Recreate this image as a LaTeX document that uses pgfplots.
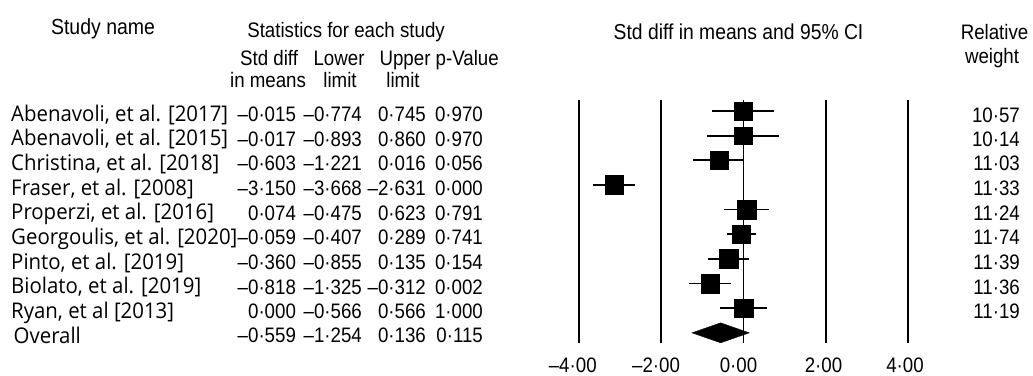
\documentclass[border=0pt]{standalone}
\usepackage{pgfplots}
\pgfplotsset{compat=1.18}
\usepackage{pgfplotstable}
\usepackage{fontspec}
\setmainfont{Liberation Sans}
\newfontfamily\namefont{Open Sans}

% row, estimate, lower, upper, weight, (upper-est), (est-lower)
\pgfplotstableread{
row est lo hi w ep em
1 -0.015 -0.774 0.745 10.57 0.760 0.759
2 -0.017 -0.893 0.860 10.14 0.877 0.876
3 -0.603 -1.221 0.016 11.03 0.619 0.618
4 -3.150 -3.668 -2.631 11.33 0.519 0.518
5 0.074 -0.475 0.623 11.24 0.549 0.549
6 -0.059 -0.407 0.289 11.74 0.348 0.348
7 -0.360 -0.855 0.135 11.39 0.495 0.495
8 -0.818 -1.325 -0.312 11.36 0.506 0.507
9 0.000 -0.566 0.566 11.19 0.566 0.566
}\studies

\pgfplotstableread{
x y
-1.254 10
-0.559 9.595
0.136 10
-0.559 10.405
-1.254 10
}\overall

\newcommand{\tf}{\fontsize{18.7}{22}\selectfont}
\newcommand{\nf}{\namefont\fontsize{20.4}{25}\selectfont}
\newcommand{\sx}[1]{\scalebox{1}[1.12]{#1}}
\newcommand{\sn}[1]{\scalebox{1}[1.06]{#1}}
\tikzset{t/.style={inner sep=0pt, font=\tf}, nm/.style={inner sep=0pt, font=\nf, anchor=base west}}

\begin{document}
\begin{tikzpicture}
\begin{axis}[
  scale only axis, width=1033pt, height=376pt,
  xmin=-18.067, xmax=7.030, ymin=-3.503, ymax=11.751, y dir=reverse,
  axis lines=none, clip=false, ticks=none,
]
% reference lines
\addplot[black, line width=2pt] coordinates {(-4,0.554) (-4,10.414)};
\addplot[black, line width=2pt] coordinates {(-2,0.554) (-2,10.414)};
\addplot[black, line width=2pt] coordinates {(2,0.554) (2,10.414)};
\addplot[black, line width=2pt] coordinates {(4,0.554) (4,10.414)};
\addplot[black, line width=1.1pt] coordinates {(0,0.554) (0,10.414)};
% confidence intervals
\addplot[draw=none, mark=none,
  error bars/.cd, x dir=both, x explicit,
  error mark=none, error bar style={black, line width=1.8pt}]
  table[x=est, y=row, x error plus=ep, x error minus=em] {\studies};
% study squares
\addplot[only marks, mark=square*, draw=black, fill=black,
  visualization depends on={\thisrow{w} \as \wt},
  scatter, scatter/use mapped color={draw=black, fill=black},
  scatter/@pre marker code/.append code={\pgfmathsetmacro{\msz}{9.2*sqrt(\wt/11.2)}\pgfsetplotmarksize{\msz pt}}]
  table[x=est, y=row] {\studies};
% overall diamond
\addplot[black, fill=black] table[x=x, y=y] {\overall} -- cycle;

% headers
\node[t, anchor=base, font=\fontsize{19.5}{22}\selectfont] at (axis cs:-15.563,-2.10) {\sx{Study name}};
\node[t, anchor=base] at (axis cs:-9.660,-1.98) {\sx{Statistics for each study}};
\node[t, anchor=base] at (axis cs:-11.530,-0.86) {\sx{Std diff}};
\node[t, anchor=base] at (axis cs:-11.554,0.03) {\sx{in means}};
\node[t, anchor=base] at (axis cs:-9.830,-0.86) {\sx{Lower}};
\node[t, anchor=base] at (axis cs:-9.806,0.03) {\sx{limit}};
\node[t, anchor=base] at (axis cs:-8.226,-0.86) {\sx{Upper}};
\node[t, anchor=base] at (axis cs:-8.275,0.03) {\sx{limit}};
\node[t, anchor=base] at (axis cs:-6.715,-0.86) {\sx{p-Value}};
\node[t, anchor=base, font=\fontsize{19.3}{22}\selectfont] at (axis cs:-0.124,-1.90) {\sx{Std diff in means and 95\% CI}};
\node[t, anchor=base] at (axis cs:6.096,-1.90) {\sx{Relative}};
\node[t, anchor=base] at (axis cs:6.035,-0.93) {\sx{weight}};

% study names
\node[nm] at (axis cs:-17.799,1.42) {\sn{Abenavoli, et al. [2017]}};
\node[nm] at (axis cs:-17.799,2.42) {\sn{Abenavoli, et al. [2015]}};
\node[nm] at (axis cs:-17.799,3.42) {\sn{Christina, et al. [2018]}};
\node[nm] at (axis cs:-17.799,4.42) {\sn{Fraser, et al. [2008]}};
\node[nm] at (axis cs:-17.799,5.42) {\sn{Properzi, et al. [2016]}};
\node[nm] at (axis cs:-17.799,6.42) {\sn{Georgoulis, et al. [2020]}};
\node[nm] at (axis cs:-17.799,7.42) {\sn{Pinto, et al. [2019]}};
\node[nm] at (axis cs:-17.799,8.42) {\sn{Biolato, et al. [2019]}};
\node[nm] at (axis cs:-17.799,9.42) {\sn{Ryan, et al [2013]}};
\node[nm] at (axis cs:-17.738,10.42) {\sn{Overall}};

% statistics columns
\foreach \r/\a/\b/\c/\d in {
  1.43/–0·015/–0·774/0·745/0·970,
  2.43/–0·017/–0·893/0·860/0·970,
  3.43/–0·603/–1·221/0·016/0·056,
  4.43/–3·150/–3·668/–2·631/0·000,
  5.43/0·074/–0·475/0·623/0·791,
  6.43/–0·059/–0·407/0·289/0·741,
  7.43/–0·360/–0·855/0·135/0·154,
  8.43/–0·818/–1·325/–0·312/0·002,
  9.43/0·000/–0·566/0·566/1·000,
  10.40/–0·559/–1·254/0·136/0·115}{
  \edef\tmp{%
  \noexpand\node[t, anchor=base east] at (axis cs:-10.872,\r) {\noexpand\sx{\a}};
  \noexpand\node[t, anchor=base east] at (axis cs:-9.271,\r) {\noexpand\sx{\b}};
  \noexpand\node[t, anchor=base east] at (axis cs:-7.716,\r) {\noexpand\sx{\c}};
  \noexpand\node[t, anchor=base east] at (axis cs:-6.331,\r) {\noexpand\sx{\d}};}
  \tmp
}

% relative weights
\foreach \r/\w in {1.45/10·57,2.43/10·14,3.43/11·03,4.43/11·33,5.43/11·24,6.43/11·74,7.43/11·39,8.43/11·36,9.43/11·19}{
  \edef\tmp{\noexpand\node[t, anchor=base east] at (axis cs:6.715,\r) {\noexpand\sx{\w}};}
  \tmp
}

% axis labels
\node[t, anchor=base] at (axis cs:-4.152,11.609) {\sx{–4·00}};
\node[t, anchor=base] at (axis cs:-2.128,11.609) {\sx{–2·00}};
\node[t, anchor=base] at (axis cs:-0.124,11.609) {\sx{0·00}};
\node[t, anchor=base] at (axis cs:1.941,11.609) {\sx{2·00}};
\node[t, anchor=base] at (axis cs:3.921,11.609) {\sx{4·00}};
\end{axis}
\pgfresetboundingbox
\path[use as bounding box] (current axis.south west) rectangle (current axis.north east);
\end{tikzpicture}
\end{document}
